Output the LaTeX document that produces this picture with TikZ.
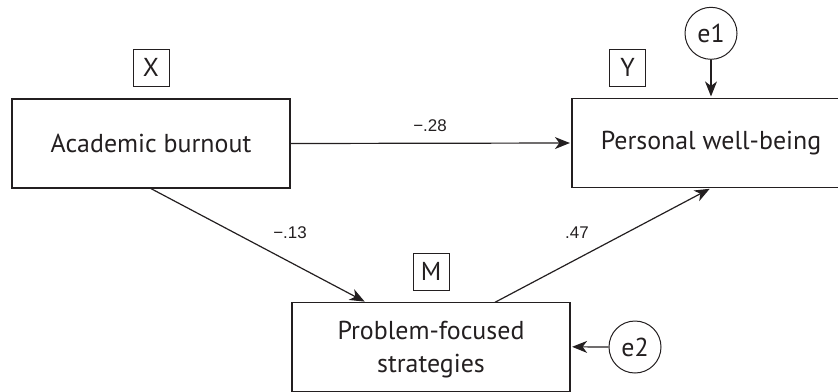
\documentclass[tikz,border=0pt]{standalone}
\usepackage{fontspec}
\setmainfont{PT Sans}
\newfontfamily\numfont{Liberation Sans}
\usetikzlibrary{arrows.meta}
\definecolor{ink}{HTML}{231F20}
\begin{document}
\begin{tikzpicture}[x=1bp,y=-1bp,
  line width=1.2bp, color=ink,
  var/.style={draw, rectangle, minimum width=278bp, minimum height=89bp, font=\fontsize{26}{33}\selectfont, align=center, inner sep=0pt},
  tag/.style={draw, rectangle, minimum width=36bp, minimum height=37bp, font=\fontsize{26}{30}\selectfont, inner sep=0pt, line width=1bp},
  err/.style={draw, circle, minimum size=52bp, font=\fontsize{26}{30}\selectfont, inner sep=0pt, line width=1bp},
  coef/.style={font=\numfont\fontsize{17}{20}\selectfont, inner sep=0pt},
  path/.style={-{Stealth[length=15bp,width=12bp,inset=4.5bp]}, shorten >=1.5bp}
]
\useasboundingbox (0,0) rectangle (838,391);
\node[var] (ab) at (151,143.5) {Academic burnout};
\node[var] (pw) at (711,143) {Personal well-being};
\node[var, text depth=0pt] (pf) at (431,346.8) {Problem-focused\\strategies};
\node[tag] (tx) at (151,67.5) {X};
\node[tag] (ty) at (627.5,67.5) {Y};
\node[tag] (tm) at (431,271.7) {M};
\node[err] (e1) at (711,33.3) {e1};
\node[err] (e2) at (635,347) {e2};
\coordinate (pfin) at (366,302.3);
\coordinate (pfout) at (495,302.3);
\draw[path] (ab.east) -- (pw.west);
\draw[path] (ab.south) -- (pfin);
\draw[path] (pfout) -- (pw.south);
\draw[path] (e1.south) -- (pw.north);
\draw[path] (e2.west) -- (pf.east);
\node[coef] (c1) at (430,126) {−.28};
\node[coef] (c2) at (290,233) {−.13};
\node[coef] (c3) at (577,233) {.47};
\end{tikzpicture}
\end{document}
